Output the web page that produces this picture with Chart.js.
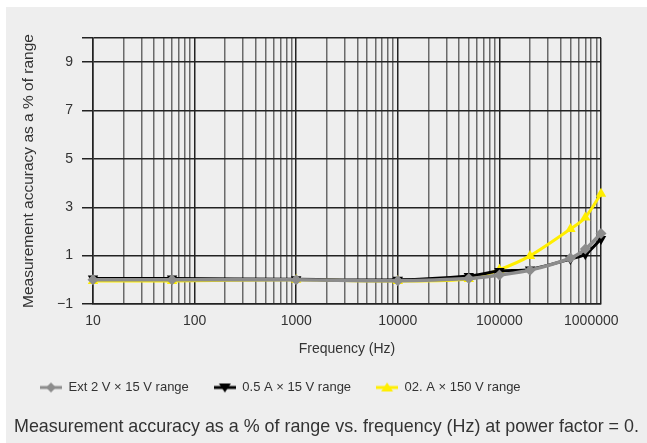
<!DOCTYPE html>
<html>
<head>
<meta charset="utf-8">
<script src="https://cdn.jsdelivr.net/npm/chart.js@4.4.1/dist/chart.umd.min.js"></script>
<style>
  body { margin: 0; background: #fff; font-family: "Liberation Sans", Arial, sans-serif; }
  #fondo { position: absolute; left: 6px; top: 7px; width: 641px; height: 436px; background: #eeeeee; }
  #grafico { position: absolute; left: 0; top: 0; }
  #pie { position: absolute; left: 14px; top: 416px; font-size: 17.9px; line-height: 20px; color: #333; white-space: nowrap; }
</style>
</head>
<body>
<div id="fondo"></div>
<canvas id="grafico" width="647" height="443"></canvas>
<div id="pie">Measurement accuracy as a % of range vs. frequency (Hz) at power factor = 0.</div>
<script>
// frequencies (Hz) of the measured points
var frequencies = [10, 60, 1000, 10000, 50000, 100000, 200000, 500000, 700000, 1000000];

// accuracy values (% of range) per series
var extVoltage = [0.0, 0.0, 0.0, -0.04, 0.05, 0.20, 0.40, 0.90, 1.27, 1.92];
var current05A = [0.05, 0.05, 0.02, 0.0, 0.16, 0.36, 0.43, 0.86, 1.06, 1.69];
var current02A = [-0.05, -0.05, 0.0, -0.05, 0.03, 0.42, 0.99, 2.10, 2.58, 3.56];

var seriesNames = ['Ext 2 V \u00d7 15 V range', '0.5 A \u00d7 15 V range', '02. A \u00d7 150 V range'];

// axis ticks
var yTicks = [-1, 1, 3, 5, 7, 9, 10];
var xDecades = [10, 100, 1000, 10000, 100000, 1000000];

var colores = ['#8c8c8c', '#000000', '#ffee00'];
var textColor = '#333333';

function toPoints(values) {
    return values.map(function (v, i) {
        return { x: frequencies[i], y: v };
    });
}

function isDecade(v) {
    return xDecades.indexOf(v) !== -1;
}

/*=============================================
Legend images: line with the marker in the middle
=============================================*/
function legendIcon(color, shape) {
    var c = document.createElement('canvas');
    c.width = 22;
    c.height = 14;
    var g = c.getContext('2d');
    g.strokeStyle = color;
    g.lineWidth = 3;
    g.beginPath();
    g.moveTo(0, 7);
    g.lineTo(22, 7);
    g.stroke();
    g.fillStyle = color;
    g.beginPath();
    if (shape === 'diamond') {
        g.moveTo(11, 2); g.lineTo(16, 7); g.lineTo(11, 12); g.lineTo(6, 7);
    } else if (shape === 'down') {
        g.moveTo(5, 3); g.lineTo(17, 3); g.lineTo(11, 12);
    } else {
        g.moveTo(11, 2); g.lineTo(17, 11); g.lineTo(5, 11);
    }
    g.closePath();
    g.fill();
    return c;
}
var iconos = [legendIcon(colores[0], 'diamond'), legendIcon(colores[1], 'down'), legendIcon(colores[2], 'up')];

var ctx = document.getElementById('grafico').getContext('2d');
new Chart(ctx, {
    type: 'line',
    data: {
        datasets: [{
            label: seriesNames[0],
            data: toPoints(extVoltage),
            borderColor: colores[0],
            backgroundColor: colores[0],
            borderWidth: 3.5,
            pointStyle: 'rectRot',
            pointRadius: 5.5,
            pointBorderWidth: 0,
            tension: 0.3,
            clip: false
        }, {
            label: seriesNames[1],
            data: toPoints(current05A),
            borderColor: colores[1],
            backgroundColor: colores[1],
            borderWidth: 3,
            pointStyle: 'triangle',
            pointRotation: 180,
            pointRadius: 6,
            pointBorderWidth: 0,
            tension: 0.3,
            clip: false
        }, {
            label: seriesNames[2],
            data: toPoints(current02A),
            borderColor: colores[2],
            backgroundColor: colores[2],
            borderWidth: 3,
            pointStyle: 'triangle',
            pointRadius: 6,
            pointBorderWidth: 0,
            tension: 0.3,
            clip: false
        }]
    },
    options: {
        responsive: false,
        animation: false,
        devicePixelRatio: 1,
        layout: {
            padding: { top: 38, left: 15, right: 43, bottom: 39 }
        },
        scales: {
            x: {
                type: 'logarithmic',
                min: 10,
                max: 1000000,
                afterBuildTicks: function (scale) {
                    var ticks = [];
                    for (var d = 10; d < 1000000; d *= 10) {
                        for (var k = 1; k < 10; k++) {
                            ticks.push({ value: d * k });
                        }
                    }
                    ticks.push({ value: 1000000 });
                    scale.ticks = ticks;
                },
                afterFit: function (scale) {
                    scale.height = 52;
                },
                ticks: {
                    autoSkip: false,
                    maxRotation: 0,
                    minRotation: 0,
                    padding: 9,
                    color: textColor,
                    font: { family: 'Liberation Sans', size: 14 },
                    callback: function (value) {
                        if (!isDecade(value)) return '';
                        // last label sits a bit left of its grid line
                        if (value === 1000000) return '1000000     ';
                        return String(value);
                    }
                },
                grid: {
                    drawTicks: false,
                    lineWidth: 1.5,
                    color: function (c) {
                        return c.tick && isDecade(c.tick.value) ? '#222222' : '#6a6a6a';
                    }
                },
                border: { color: '#222222', width: 1.5 },
                title: {
                    display: true,
                    text: 'Frequency (Hz)',
                    color: textColor,
                    padding: { top: 0, bottom: 0 },
                    font: { family: 'Liberation Sans', size: 14, lineHeight: 1 }
                }
            },
            y: {
                min: -1,
                max: 10,
                afterBuildTicks: function (scale) {
                    scale.ticks = yTicks.map(function (v) { return { value: v }; });
                },
                afterFit: function (scale) {
                    scale.width = 78;
                },
                ticks: {
                    padding: 9,
                    color: textColor,
                    font: { family: 'Liberation Sans', size: 14 },
                    callback: function (value) {
                        if (value === 10) return '';
                        return value < 0 ? '\u2212' + Math.abs(value) : String(value);
                    }
                },
                grid: {
                    tickLength: 11,
                    lineWidth: 1.5,
                    color: '#222222'
                },
                border: { color: '#222222', width: 1.5 },
                title: {
                    display: true,
                    text: 'Measurement accuracy as a % of range',
                    color: textColor,
                    padding: { top: 4, bottom: 0 },
                    font: { family: 'Liberation Sans', size: 15.5 }
                }
            }
        },
        plugins: {
            legend: {
                position: 'bottom',
                align: 'start',
                labels: {
                    usePointStyle: true,
                    pointStyleWidth: 22,
                    padding: 25,
                    color: textColor,
                    font: { family: 'Liberation Sans', size: 13 },
                    generateLabels: function (chart) {
                        var items = Chart.defaults.plugins.legend.labels.generateLabels(chart);
                        items.forEach(function (it, i) {
                            it.pointStyle = iconos[i];
                            it.rotation = 0;
                        });
                        return items;
                    }
                }
            },
            tooltip: { enabled: false }
        }
    }
});
</script>
</body>
</html>
